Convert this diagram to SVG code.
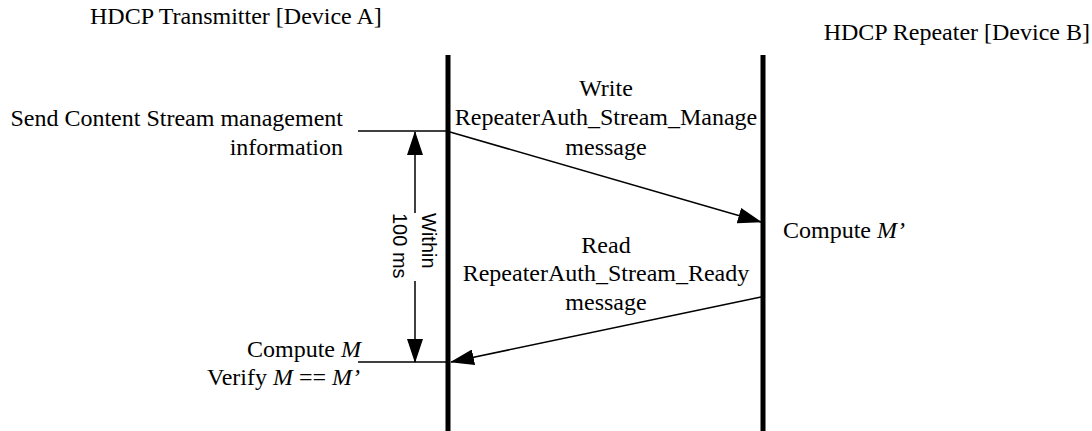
<svg xmlns="http://www.w3.org/2000/svg" width="1092" height="431" viewBox="0 0 1092 431">
<style>
.t{font-family:"Liberation Serif","Times New Roman",serif;font-size:24px;fill:#000}
.s{font-family:"Liberation Sans",Arial,sans-serif;font-size:20px;fill:#000}
.ln{stroke:#000;stroke-width:1.5;fill:none}
.life{stroke:#000;stroke-width:5;fill:none}
</style>
<defs>
<marker id="ah" markerWidth="24" markerHeight="16" refX="23" refY="8" orient="auto" markerUnits="userSpaceOnUse">
<path d="M0,0 L24,8 L0,16 Z" fill="#000"/>
</marker>
</defs>
<g id="deviceA">
<text class="t" x="90" y="24">HDCP Transmitter [Device A]</text>
<line class="life" x1="448" y1="55" x2="448" y2="431"/>
</g>
<g id="deviceB">
<text class="t" x="1090" y="40" text-anchor="end">HDCP Repeater [Device B]</text>
<line class="life" x1="763" y1="55" x2="763" y2="431"/>
</g>
<g id="send">
<text class="t" x="343" y="126" text-anchor="end">Send Content Stream management</text>
<text class="t" x="343" y="155" text-anchor="end">information</text>
</g>
<g id="write">
<text class="t" x="606" y="96" text-anchor="middle">Write</text>
<text class="t" x="606" y="125" text-anchor="middle">RepeaterAuth_Stream_Manage</text>
<text class="t" x="606" y="155" text-anchor="middle">message</text>
</g>
<g id="computeMp">
<text class="t" x="783" y="238">Compute <tspan font-style="italic">M’</tspan></text>
</g>
<g id="read">
<text class="t" x="606" y="253" text-anchor="middle">Read</text>
<text class="t" x="606" y="281" text-anchor="middle">RepeaterAuth_Stream_Ready</text>
<text class="t" x="606" y="310" text-anchor="middle">message</text>
</g>
<g id="computeM">
<text class="t" x="361" y="357" text-anchor="end">Compute <tspan font-style="italic">M</tspan></text>
<text class="t" x="360" y="385" text-anchor="end">Verify <tspan font-style="italic">M</tspan> == <tspan font-style="italic">M’</tspan></text>
</g>
<g id="within">
<text class="s" transform="translate(422,213) rotate(90)">Within</text>
<text class="s" transform="translate(393,213) rotate(90)">100 ms</text>
</g>
<g id="connectors">
<line class="ln" x1="358" y1="131" x2="448" y2="131"/>
<line class="ln" x1="358" y1="362" x2="448" y2="362"/>
<line class="ln" x1="415" y1="213" x2="415" y2="132" marker-end="url(#ah)"/>
<line class="ln" x1="415" y1="281" x2="415" y2="362" marker-end="url(#ah)"/>
<line class="ln" x1="450" y1="132" x2="761" y2="222" marker-end="url(#ah)"/>
<line class="ln" x1="761" y1="297" x2="451" y2="362" marker-end="url(#ah)"/>
</g>
</svg>
